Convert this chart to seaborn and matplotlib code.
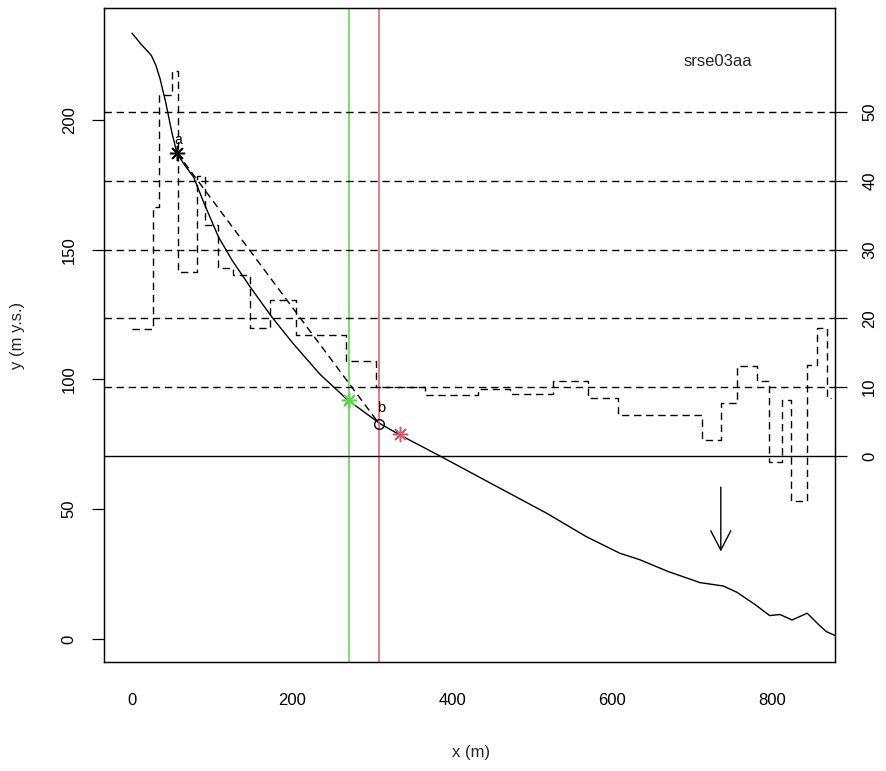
import matplotlib
matplotlib.use("Agg")
import matplotlib.pyplot as plt
import seaborn as sns
import pandas as pd
import numpy as np

# ---------------- data ----------------
# ground profile (x in m, y in m above sea level)
profile_x = [0, 12, 24, 30, 35, 42, 50, 56, 65, 77, 90, 108, 125, 147, 175, 201,
             235, 270, 310, 335, 385, 452, 518, 568, 610, 635, 670, 710, 739, 756,
             780, 797, 810, 825, 844, 860, 868, 879]
profile_y = [233.5, 229, 225, 221, 216, 207, 195, 187.4, 183, 178, 168, 155, 146,
             136, 124, 114, 102, 92, 83, 78.6, 70.5, 59.4, 48.5, 39.4, 33, 30.5,
             26, 21.7, 20.4, 18, 13, 9, 9.4, 7.3, 9.9, 5, 2.8, 1.3]

# step series (right axis), interval edges and values
step_edges = [0, 26.3, 33.8, 49.6, 56.9, 80.9, 91.3, 107.9, 125.9, 147.5, 172.5,
              205, 266.9, 305, 366.3, 433, 472.5, 525.9, 570.4, 607.9, 712.9,
              735.9, 755.9, 781.6, 796.6, 812.1, 823.4, 844.1, 855.9, 868.4, 873.4]
step_values = [18.4, 36.2, 52.4, 55.9, 26.8, 40.7, 33.6, 27.3, 26.3, 18.65, 22.7,
               17.6, 13.85, 10.0, 8.9, 9.7, 9.0, 10.95, 8.4, 5.9, 2.3, 7.65, 13.1,
               10.95, -0.8, 8.2, -6.5, 13.2, 18.6, 8.4]

# reference levels on the right axis
right_dashed_levels = [10, 20, 30, 40, 50]
right_solid_levels = [0]

# vertical marker lines
green_x = 271
red_x = 309

# points
pt_a = (56.25, 187.4)
pt_green = (271, 92.1)
pt_red = (335, 79.0)
pt_b = (309, 82.9)

# arrow
arrow_x = 736
arrow_y_start = 58.5
arrow_y_end = 33.7

title_text = "srse03aa"
title_pos = (732, 222.4)

xticks = [0, 200, 400, 600, 800]
yticks_left = [0, 50, 100, 150, 200]
yticks_right = [0, 10, 20, 30, 40, 50]

GREEN = "#61D04F"
RED = "#DF536B"

# ---------------- style ----------------
sns.set_theme(style="white")
plt.rcParams["font.family"] = ["Liberation Sans", "DejaVu Sans"]
plt.rcParams["axes.edgecolor"] = "black"
plt.rcParams["axes.linewidth"] = 0.9

W, H = 886, 771
fig = plt.figure(figsize=(W / 100, H / 100), dpi=100)
L, R, T, B = 104, 835, 8, 662
ax = fig.add_axes([L / W, 1 - B / H, (R - L) / W, (B - T) / H])
ax.set_xlim(-35, 878.75)
ax.set_ylim(-8.9, 243.2)

DASH = (5.3, 3.4)

# profile line
prof_df = pd.DataFrame({"x": profile_x, "y": profile_y})
sns.lineplot(data=prof_df, x="x", y="y", ax=ax, color="black", lw=1.0,
             estimator=None, sort=False)

# dashed straight line from a to b
line_df = pd.DataFrame({"x": [pt_a[0], pt_b[0]], "y": [pt_a[1], pt_b[1]]})
sns.lineplot(data=line_df, x="x", y="y", ax=ax, color="black", lw=1.0,
             estimator=None, sort=False, dashes=False)
ax.lines[-1].set_dashes(DASH)

# vertical lines
ax.axvline(green_x, color=GREEN, lw=1.1)
ax.axvline(red_x, color=RED, lw=1.1)

# markers
ast = (8, 2, 0)
ax.plot([pt_a[0]], [pt_a[1]], marker=ast, ms=11, mew=1.1, color="black", ls="none")
ax.plot([pt_green[0]], [pt_green[1]], marker=ast, ms=11, mew=1.1, color=GREEN, ls="none")
ax.plot([pt_red[0]], [pt_red[1]], marker=ast, ms=11, mew=1.1, color=RED, ls="none")
ax.plot([pt_b[0]], [pt_b[1]], marker="o", ms=7, mew=1.0, mfc="none", color="black", ls="none")
ax.text(pt_a[0] + 2, pt_a[1] + 5, "a", fontsize=10, ha="center", va="center", color="black")
ax.text(pt_b[0] + 2, pt_b[1] + 6, "b", fontsize=10.5, ha="center", va="center", color="black")

# arrow
ax.annotate("", xy=(arrow_x, arrow_y_end), xytext=(arrow_x, arrow_y_start),
            arrowprops=dict(arrowstyle="->,head_length=1.15,head_width=0.6",
                            color="black", lw=1.0, shrinkA=0, shrinkB=0))

ax.text(title_pos[0], title_pos[1], title_text, fontsize=12, ha="center", va="center")

# ---------------- right axis ----------------
ax2 = ax.twinx()
ax2.set_ylim((456 - B) / 6.88, (456 - T) / 6.88)
step_df = pd.DataFrame({"x": step_edges, "v": step_values + [step_values[-1]]})
sns.lineplot(data=step_df, x="x", y="v", ax=ax2, color="black", lw=1.0,
             estimator=None, sort=False, drawstyle="steps-post")
ax2.lines[-1].set_dashes(DASH)
for lv in right_dashed_levels:
    ax2.axhline(lv, color="black", lw=1.0, dashes=DASH)
for lv in right_solid_levels:
    ax2.axhline(lv, color="black", lw=1.0)
ax2.set_ylabel("")

# ---------------- axes formatting ----------------
ax.set_xticks(xticks)
ax.set_yticks(yticks_left)
ax2.set_yticks(yticks_right)
ax.tick_params(axis="both", direction="out", length=8.6, width=0.9, labelsize=12,
               colors="black")
ax.tick_params(axis="x", pad=14)
ax.tick_params(axis="y", pad=11)
ax2.tick_params(axis="y", direction="out", length=8.6, width=0.9, labelsize=12,
                pad=11, colors="black")
for lab in ax.get_yticklabels():
    lab.set_rotation(90)
    lab.set_va("center")
for lab in ax2.get_yticklabels():
    lab.set_rotation(90)
    lab.set_va("center")

ax.set_xlabel("x (m)", fontsize=12)
ax.set_ylabel("y (m y.s.)", fontsize=12)
ax.xaxis.set_label_coords((471 - L) / (R - L), (B - 752) / (B - T))
ax.xaxis.label.set_va("center")
ax.yaxis.set_label_coords((18 - L) / (R - L), 0.5)
ax.yaxis.label.set_va("center")

for a in (ax, ax2):
    for s in a.spines.values():
        s.set_visible(True)
        s.set_color("black")
        s.set_linewidth(0.9)

fig.savefig("out.png", dpi=100)
